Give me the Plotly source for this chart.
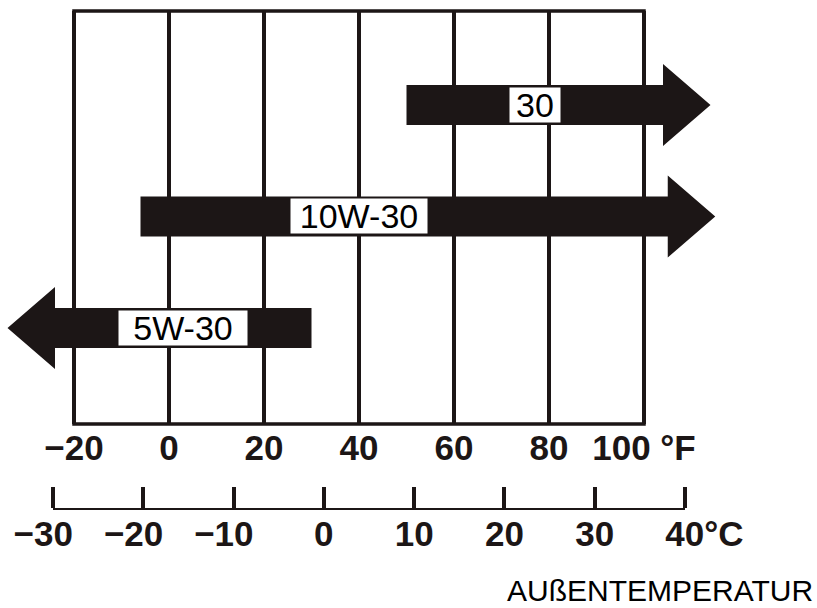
import plotly.graph_objects as go

# ---------------- data ----------------
grades = ["30", "10W-30", "5W-30"]
temp_low_F = [50, -6, -24]        # left end of each arrow body (°F)
temp_high_F = [104, 105, 30]      # right end of each arrow body (°F)
open_side = ["right", "right", "left"]   # side carrying the arrow head
label_pos_F = [77, 40, 3]         # label centre along the °F scale

f_ticks = [-20, 0, 20, 40, 60, 80, 100]
f_ticktext = ["−20", "0", "20", "40", "60", "80", "100 °F"]
c_ticks = [-30, -20, -10, 0, 10, 20, 30, 40]
c_ticktext = ["−30", "−20", "−10", "0", "10", "20", "30", "40°C"]
caption = "AUßENTEMPERATUR"

# ---------------- style ----------------
W, H = 817, 608
PX_PER_F = 4.75
F_LEFT_PX = 74
ROW_TOP_PX, ROW_STEP_PX = 105, 111.5
BOX_TOP_PX, BOX_BOT_PX = 11, 424
INK = "#1c1616"
HEAD_LEN = 10.0          # °F
BODY_HALF = 20 / ROW_STEP_PX
HEAD_HALF = 41 / ROW_STEP_PX
box_widths = [50, 136, 128]
NB = "\u00a0"
C_LEFT_PX, C_RIGHT_PX = 53, 685
C_PAD = 0.25             # °C of slack so the end ticks are drawn


def c_label(t):
    # keep the digits centred on the tick: balance signs / units with spaces
    if t.startswith("−"):
        return t + NB * 2
    if t.endswith("°C"):
        return NB * 4 + t
    return t


x_range = [-20 - F_LEFT_PX / PX_PER_F, -20 + (W - F_LEFT_PX) / PX_PER_F]
y_range = [(BOX_BOT_PX - ROW_TOP_PX) / ROW_STEP_PX, (BOX_TOP_PX - ROW_TOP_PX) / ROW_STEP_PX]

c_px_per = (C_RIGHT_PX - C_LEFT_PX) / (c_ticks[-1] - c_ticks[0])
c_range = [c_ticks[0] - C_PAD, c_ticks[-1] + C_PAD]
c_dom = [(C_LEFT_PX - C_PAD * c_px_per) / W, (C_RIGHT_PX + C_PAD * c_px_per) / W]

fig = go.Figure()

label_font = dict(family="Liberation Sans", size=34, color="black")

for i, g in enumerate(grades):
    s, e = temp_low_F[i], temp_high_F[i]
    y = i
    if open_side[i] == "right":
        xs = [s, e, e, e + HEAD_LEN, e, e, s, s]
    else:
        xs = [e, s, s, s - HEAD_LEN, s, s, e, e]
    ys = [y - BODY_HALF, y - BODY_HALF, y - HEAD_HALF, y, y + HEAD_HALF,
          y + BODY_HALF, y + BODY_HALF, y - BODY_HALF]
    fig.add_trace(go.Scatter(x=xs, y=ys, mode="lines", fill="toself",
                             fillcolor=INK, line=dict(color=INK, width=0),
                             hoverinfo="skip", showlegend=False,
                             xaxis="x", yaxis="y"))
    fig.add_annotation(x=label_pos_F[i], y=y, xref="x", yref="y", text=g,
                       showarrow=False, bgcolor="white", borderpad=0,
                       width=box_widths[i], height=34, align="center",
                       font=label_font)

# invisible traces carrying the Celsius scale (labels axis + line axis)
for xa, ya in (("x2", "y2"), ("x3", "y3")):
    fig.add_trace(go.Scatter(x=[c_ticks[0], c_ticks[-1]], y=[0, 0], mode="markers",
                             marker=dict(opacity=0), hoverinfo="skip", showlegend=False,
                             xaxis=xa, yaxis=ya))

# frame around the °F grid
fig.add_shape(type="rect", xref="x", yref="y domain", x0=f_ticks[0], x1=f_ticks[-1],
              y0=0, y1=1, line=dict(color=INK, width=3.5), layer="below")

tickfont = dict(family="Liberation Sans", size=35, color=INK, weight="bold")
hidden_y = dict(range=[0, 1], showgrid=False, zeroline=False, showticklabels=False,
                fixedrange=True, automargin=False)

fig.update_layout(
    width=W, height=H, margin=dict(l=0, r=0, t=0, b=0, autoexpand=False),
    paper_bgcolor="white", plot_bgcolor="white",
    xaxis=dict(domain=[0, 1], range=x_range, tickvals=f_ticks, ticktext=f_ticktext,
               showgrid=True, gridcolor=INK, gridwidth=3.5, zeroline=False,
               showline=False, ticks="", tickfont=tickfont, anchor="y",
               fixedrange=True, automargin=False),
    yaxis=dict(domain=[1 - BOX_BOT_PX / H, 1 - BOX_TOP_PX / H], range=y_range,
               showgrid=False, zeroline=False, showticklabels=False,
               fixedrange=True, automargin=False),
    # Celsius labels
    xaxis2=dict(domain=c_dom, range=c_range,
                tickvals=c_ticks, ticktext=[c_label(t) for t in c_ticktext], anchor="y2",
                showline=False, ticks="", showgrid=False, zeroline=False,
                tickfont=tickfont, fixedrange=True, automargin=False),
    yaxis2=dict(domain=[1 - 510 / H, 1 - 470 / H], **hidden_y),
    # Celsius scale line with upward ticks
    xaxis3=dict(domain=[C_LEFT_PX / W, C_RIGHT_PX / W], range=[c_ticks[0], c_ticks[-1]],
                showticklabels=False, ticks="", anchor="y3",
                showline=True, linecolor=INK, linewidth=3.5,
                showgrid=False, zeroline=False, fixedrange=True, automargin=False),
    yaxis3=dict(domain=[1 - 506 / H, 1 - 470 / H], **hidden_y),
    # upward tick marks of the Celsius scale, drawn as inside ticks of a padded axis
    xaxis4=dict(domain=c_dom, range=c_range, tickvals=c_ticks, showticklabels=False,
                anchor="y4", showline=False, ticks="inside", ticklen=21, tickwidth=3.5,
                tickcolor=INK, showgrid=False, zeroline=False, fixedrange=True,
                automargin=False),
    yaxis4=dict(domain=[1 - 508 / H, 1 - 470 / H], **hidden_y),
    annotations=list(fig.layout.annotations) + [
        dict(text=caption, xref="paper", yref="paper", x=815 / W, y=1 - 590 / H,
             xanchor="right", yanchor="middle", showarrow=False,
             font=dict(family="Liberation Sans", size=30, color="black"))
    ],
)

fig.add_trace(go.Scatter(x=[c_ticks[0], c_ticks[-1]], y=[0, 0], mode="markers",
                         marker=dict(opacity=0), hoverinfo="skip", showlegend=False,
                         xaxis="x4", yaxis="y4"))

fig.write_html("out.html", config={"displayModeBar": False},
               post_script="document.body.style.margin='0px';document.body.style.padding='0px';")
